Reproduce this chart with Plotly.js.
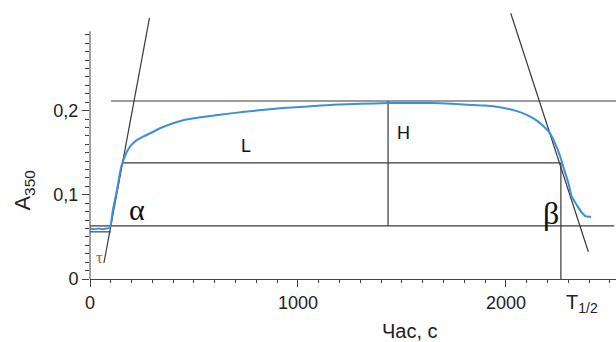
<!DOCTYPE html>
<html>
<head>
<meta charset="utf-8">
<script src="https://cdn.plot.ly/plotly-3.0.1.min.js"></script>
<style>html,body{margin:0;padding:0;background:#fff;}#chart{width:616px;height:342px;}</style>
</head>
<body>
<div id="chart"></div>
<script>
// Kinetic curve (time, s ; absorbance at 350 nm)
const timeS = [0, 20, 40, 60, 80, 96, 110, 130, 149, 159, 175, 195, 220, 255, 297, 337, 400, 457, 560, 688, 800, 928, 1050, 1168, 1300, 1433, 1550, 1649, 1740, 1813, 1900, 1971, 2030, 2080, 2130, 2178, 2212, 2236, 2260, 2276, 2300, 2316, 2340, 2364, 2380, 2396, 2409];
const absorb = [0.060, 0.059, 0.060, 0.059, 0.060, 0.061, 0.082, 0.106, 0.132, 0.140, 0.150, 0.158, 0.164, 0.169, 0.174, 0.179, 0.185, 0.189, 0.193, 0.197, 0.200, 0.203, 0.205, 0.207, 0.208, 0.209, 0.209, 0.209, 0.208, 0.207, 0.206, 0.204, 0.201, 0.197, 0.191, 0.182, 0.173, 0.161, 0.146, 0.133, 0.114, 0.098, 0.088, 0.079, 0.075, 0.074, 0.074];

// Construction lines (pairs of points)
const leftTangentX = [67, 286];
const leftTangentY = [0.019, 0.310];
const rightTangentX = [2023, 2396];
const rightTangentY = [0.3156, 0.0324];
const topLineX = [101, 2530];
const topLineY = [0.2114, 0.2114];
const midLineX = [159, 2264];
const midLineY = [0.1378, 0.1378];
const baseLineX = [0, 2520];
const baseLineY = [0.063, 0.063];
const lowBoxX = [0, 100];
const lowBoxY = [0.056, 0.056];
const hLineX = [1433, 1433];
const hLineY = [0.2114, 0.063];
const tHalfX = [2264, 2264];
const tHalfY = [0.1378, 0.0];

// Axis ticks
const xTicks = [0, 1000, 2000];
const yTicks = [0, 0.1, 0.2];
const yTickText = ['0', '0,1', '0,2'];
const yMinor = [0.01,0.02,0.03,0.04,0.05,0.06,0.07,0.08,0.09,0.11,0.12,0.13,0.14,0.15,0.16,0.17,0.18,0.19,0.21,0.22,0.23,0.24,0.25,0.26,0.27,0.28,0.29];

const lineStyle = {color: '#3a3a3a', width: 1.2};
function seg(x, y) {
  return {x: x, y: y, mode: 'lines', line: lineStyle, hoverinfo: 'skip', showlegend: false};
}

const traces = [
  seg(topLineX, topLineY),
  seg(midLineX, midLineY),
  seg(baseLineX, baseLineY),
  seg(lowBoxX, lowBoxY),
  seg(hLineX, hLineY),
  seg(tHalfX, tHalfY),
  seg(leftTangentX, leftTangentY),
  seg(rightTangentX, rightTangentY),
  {x: timeS, y: absorb, mode: 'lines', line: {color: '#3d8fdb', width: 2, shape: 'spline', smoothing: 0.5}, showlegend: false}
];

const font = {family: 'Liberation Sans, Arial, sans-serif', size: 18, color: '#222'};

const layout = {
  width: 616, height: 342,
  margin: {l: 90, r: 0, t: 5, b: 63},
  paper_bgcolor: '#fff', plot_bgcolor: '#fff',
  separators: ',.',
  font: font,
  showlegend: false,
  xaxis: {
    range: [0, 2529], showgrid: false, zeroline: false,
    showline: true, linecolor: '#444', linewidth: 1,
    tickmode: 'array', tickvals: xTicks, ticks: 'outside', ticklen: 7, tickcolor: '#444',
    tickfont: font,
    minor: {dtick: 100, tick0: 0, ticks: 'outside', ticklen: 3, tickcolor: '#444'}
  },
  yaxis: {
    range: [0, 0.3254], showgrid: false, zeroline: false, showline: false,
    tickmode: 'array', tickvals: yTicks, ticktext: yTickText,
    ticks: 'outside', ticklen: 7, tickcolor: '#444', tickfont: font,
    minor: {tickmode: 'array', tickvals: yMinor, ticks: 'outside', ticklen: 4, tickcolor: '#444'}
  },
  shapes: [
    {type: 'line', xref: 'paper', yref: 'y', x0: 0, x1: 0, y0: 0, y1: 0.294, line: {color: '#444', width: 1}}
  ],
  annotations: [
    {text: 'α', x: 226, y: 0.082, xref: 'x', yref: 'y', showarrow: false, font: {family: 'Liberation Serif, Times New Roman, serif', size: 30, color: '#111'}},
    {text: 'β', x: 2216, y: 0.078, xref: 'x', yref: 'y', showarrow: false, font: {family: 'Liberation Serif, Times New Roman, serif', size: 32, color: '#111'}},
    {text: 'τ', x: 46, y: 0.026, xref: 'x', yref: 'y', showarrow: false, font: {family: 'Liberation Serif, Times New Roman, serif', size: 17, color: '#b0601a'}},
    {text: 'L', x: 750, y: 0.158, xref: 'x', yref: 'y', showarrow: false, font: {family: 'Liberation Sans, Arial, sans-serif', size: 18, color: '#111'}},
    {text: 'H', x: 1505, y: 0.173, xref: 'x', yref: 'y', showarrow: false, font: {family: 'Liberation Sans, Arial, sans-serif', size: 18, color: '#111'}},
    {text: 'T<sub>1/2</sub>', x: 2280, y: -0.09, xref: 'x', yref: 'paper', xanchor: 'left', yanchor: 'middle', showarrow: false, font: {family: 'Liberation Sans, Arial, sans-serif', size: 20, color: '#222'}},
    {text: 'Час, с', x: 1540, y: -0.19, xref: 'x', yref: 'paper', xanchor: 'center', yanchor: 'middle', showarrow: false, font: {family: 'Liberation Sans, Arial, sans-serif', size: 20, color: '#222'}},
    {text: 'A<sub>350</sub>', x: 0, y: 0.105, xref: 'paper', yref: 'y', xshift: -66, textangle: -90, xanchor: 'center', yanchor: 'middle', showarrow: false, font: {family: 'Liberation Sans, Arial, sans-serif', size: 22, color: '#222'}}
  ]
};

Plotly.newPlot('chart', traces, layout, {staticPlot: true, displayModeBar: false});
</script>
</body>
</html>
